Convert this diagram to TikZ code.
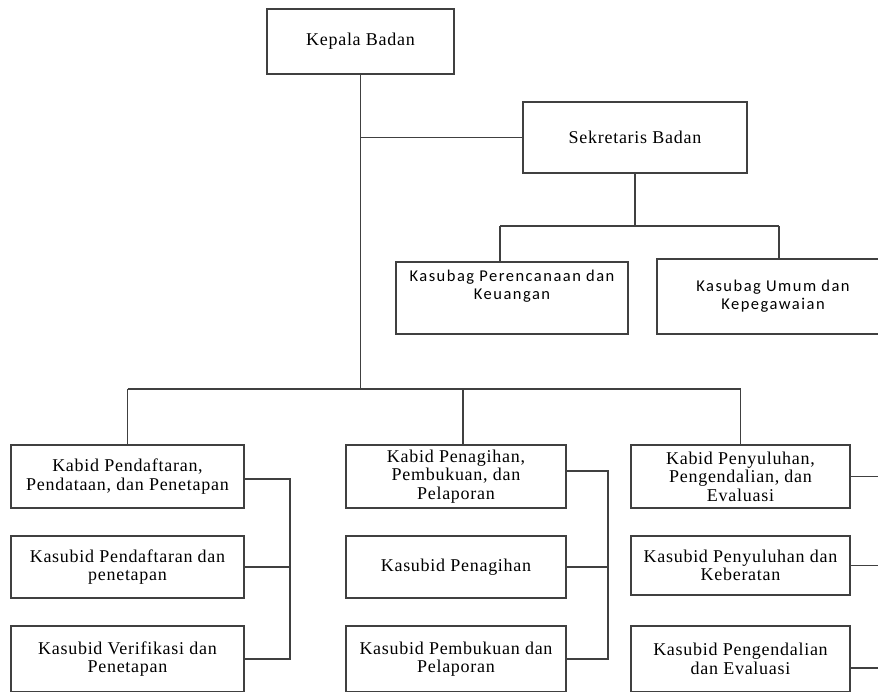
\documentclass[tikz,border=0pt]{standalone}
\usepackage{fontspec}
\setmainfont{Liberation Serif}[LetterSpace=4]
\newfontfamily\calfont{Carlito}[LetterSpace=9]
\begin{document}
\begin{tikzpicture}[x=1pt,y=-1pt,
  box/.style={draw=black!75, line width=1.1pt, fill=white, align=center, inner sep=0pt,
    font=\fontsize{18}{18.5}\selectfont},
  cbox/.style={box, font=\calfont\fontsize{16.5}{18}\selectfont},
  sized/.style 2 args={minimum width=#1pt, minimum height=#2pt},
  conn/.style={draw=black!75, line width=1.1pt},
  txt/.style={align=center, inner sep=0pt}]
\useasboundingbox (0,0) rectangle (878,691);
\clip (0,0) rectangle (878,691);
\fill[white] (0,0) rectangle (878,691);

% top
\node[box, sized={187}{65}] (kep) at (360.5,41.5) {Kepala Badan};
\node[box, sized={224}{71}] (sek) at (635,137.5) {Sekretaris Badan};
\node[cbox, sized={232}{72}] (kp) at (512,298) {};
\node[txt, font=\calfont\fontsize{16.5}{18}\selectfont] (kpt) at (512,286) {Kasubag Perencanaan dan\\Keuangan};
\node[cbox, sized={232}{75}] (ku) at (773,296.5) {Kasubag Umum dan\\Kepegawaian};

% left column
\node[box, sized={233}{63}] (kl1) at (127.5,476.5) {Kabid Pendaftaran,\\Pendataan, dan Penetapan};
\node[box, sized={233}{62}] (kl2) at (127.5,567) {Kasubid Pendaftaran dan\\penetapan};
\node[box, sized={233}{66}] (kl3) at (127.5,659) {Kasubid Verifikasi dan\\Penetapan};

% middle column
\node[box, sized={220}{63}] (km1) at (456,476.5) {Kabid Penagihan,\\Pembukuan, dan\\Pelaporan};
\node[box, sized={220}{62}] (km2) at (456,567) {Kasubid Penagihan};
\node[box, sized={220}{66}] (km3) at (456,659) {Kasubid Pembukuan dan\\Pelaporan};

% right column
\node[box, sized={219}{63}] (kr1) at (740.5,476.5) {Kabid Penyuluhan,\\Pengendalian, dan\\Evaluasi};
\node[box, sized={219}{59}] (kr2) at (740.5,565.5) {Kasubid Penyuluhan dan\\Keberatan};
\node[box, sized={219}{66}] (kr3) at (740.5,659) {Kasubid Pengendalian\\dan Evaluasi};

% coordinates
\coordinate (hub) at (360.5,389);
\coordinate (bl) at (127.5,389);
\coordinate (bm) at (463,389);
\coordinate (br) at (740.5,389);
\coordinate (sj) at (635,226);
\coordinate (p1) at (500,226);
\coordinate (p2) at (779,226);
\coordinate (barl) at (290,0);
\coordinate (barm) at (608,0);
\coordinate (redge) at (878,0);

% connectors top
\draw[conn] (kep.south) -- (hub);
\draw[conn] (kep.south |- sek.west) -- (sek.west);
\draw[conn] (sek.south) -- (sj);
\draw[conn] (p1) -- (p2);
\draw[conn] (p1) -- (p1 |- kp.north);
\draw[conn] (p2) -- (p2 |- ku.north);

% main bus
\draw[conn] (bl) -- (br);
\draw[conn] (bl) -- (bl |- kl1.north);
\draw[conn] (bm) -- (bm |- km1.north);
\draw[conn] (br) -- (br |- kr1.north);

% left bracket
\draw[conn] ([yshift=-2.5pt]kl1.east) -| (barl |- kl3.east) -- (kl3.east);
\draw[conn] (kl2.east) -- (kl2.east -| barl);

% middle bracket
\draw[conn] ([yshift=5.5pt]km1.east) -| (barm |- km3.east) -- (km3.east);
\draw[conn] (km2.east) -- (km2.east -| barm);

% right lines
\draw[conn] (kr1.east) -- (kr1.east -| redge);
\draw[conn] (kr2.east) -- (kr2.east -| redge);
\draw[conn] ([yshift=-9pt]kr3.east) -- ([yshift=-9pt]kr3.east -| redge);
\end{tikzpicture}
\end{document}
